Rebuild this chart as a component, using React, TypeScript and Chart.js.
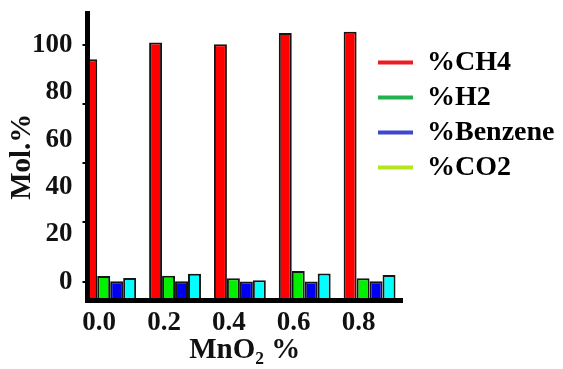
import { useEffect, useRef } from "react";
import { Chart, registerables } from "chart.js";

Chart.register(...registerables);

// MnO2 loading (%) for each group of bars
const mno2Loadings = [0, 0.2, 0.4, 0.6, 0.8];
const xTickLabels = ["0.0", "0.2", "0.4", "0.6", "0.8"];

// Gas composition, mol.%
const ch4Values = [94, 101, 100.3, 105, 105.6];
const h2Values = [2.4, 2.5, 1.4, 4.5, 1.4];
const benzeneValues = [0.1, 0.1, 0, 0, 0.1];
const co2Values = [1.5, 3.3, 0.6, 3.4, 2.8];

const seriesLabels = ["%CH4", "%H2", "%Benzene", "%CO2"];
const barColors = ["#ff0000", "#00f000", "#0000f0", "#00ffff"];
const legendColors = ["#ed1c24", "#22b14c", "#3f48cc", "#b5e61d"];

const yTickValues = [0, 20, 40, 60, 80, 100];
const yTickLabels = ["0", "20", "40", "60", "80", "100"];
const yMarkValues = [0, 25, 50, 75, 100];

const Y_MIN = -8;
const Y_MAX = 113.5;
const X_MIN = -0.07;
const X_MAX = 0.9;

const SERIF = "'Liberation Serif', 'Times New Roman', serif";
const INK = "#111";

// Pull the legend in over the right end of the plot, as in the figure layout
const legendPlacement = {
  id: "legendPlacement",
  afterLayout(chart: any) {
    const lg = chart.legend;
    if (!lg) return;
    lg.left = 363;
    lg.right = chart.width;
    lg.width = lg.right - lg.left;
    lg.top = 33.5;
  },
};

const noEdgePadding = (s: any) => {
  s.paddingTop = 0;
  s.paddingBottom = 0;
  s.paddingLeft = 0;
  s.paddingRight = 0;
};

export default function App() {
  const canvasRef = useRef<HTMLCanvasElement>(null);

  useEffect(() => {
    if (!canvasRef.current) return;
    const series = [ch4Values, h2Values, benzeneValues, co2Values];
    const chart = new Chart(canvasRef.current, {
      type: "bar",
      data: {
        datasets: series.map((vals, i) => ({
          label: seriesLabels[i],
          data: mno2Loadings.map((x, j) => ({ x, y: vals[j] })),
          backgroundColor: barColors[i],
          borderColor: "#151515",
          borderWidth: 2,
          base: Y_MIN,
          categoryPercentage: 0.8,
          barPercentage: 1.0,
          clip: 0,
          yAxisID: "y",
        })),
      },
      options: {
        responsive: false,
        animation: false,
        layout: { padding: { top: 5, left: 0, right: 0, bottom: 0 } },
        plugins: {
          tooltip: { enabled: false },
          legend: {
            position: "right",
            align: "start",
            maxWidth: 180,
            labels: {
              boxWidth: 35,
              boxHeight: 4,
              padding: 7,
              color: INK,
              font: { family: SERIF, size: 28, weight: "bold" },
              generateLabels: (c: any) =>
                c.data.datasets.map((ds: any, i: number) => ({
                  text: ds.label,
                  fillStyle: legendColors[i],
                  strokeStyle: legendColors[i],
                  lineWidth: 0,
                  hidden: false,
                  datasetIndex: i,
                })),
            },
          },
        },
        scales: {
          x: {
            type: "linear",
            min: X_MIN,
            max: X_MAX,
            offset: false,
            grid: { display: true, drawOnChartArea: false, drawTicks: false, offset: false, color: "#000", z: 1 },
            border: { display: true, width: 5, color: "#000", z: 1 },
            afterBuildTicks: (s: any) => {
              s.ticks = mno2Loadings.map((v) => ({ value: v }));
            },
            afterFit: (s: any) => {
              s.height = 87.5;
              noEdgePadding(s);
            },
            ticks: {
              color: INK,
              padding: 9,
              labelOffset: -11,
              maxRotation: 0,
              autoSkip: false,
              font: { family: SERIF, size: 27, weight: "bold", lineHeight: 1 },
              callback: (_v: any, i: number) => xTickLabels[i],
            },
            title: {
              display: true,
              text: "MnO₂ %",
              color: INK,
              font: { family: SERIF, size: 29, weight: "bold", lineHeight: 1 },
              padding: { top: 0, bottom: 23 },
            },
          },
          y: {
            type: "linear",
            position: "left",
            weight: 1,
            min: Y_MIN,
            max: Y_MAX,
            grid: { display: false, drawTicks: false },
            border: { display: false },
            afterBuildTicks: (s: any) => {
              s.ticks = yTickValues.map((v) => ({ value: v }));
            },
            afterFit: (s: any) => {
              s.width = 74.5;
              noEdgePadding(s);
            },
            ticks: {
              color: INK,
              padding: 10,
              font: { family: SERIF, size: 27, weight: "bold" },
              callback: (_v: any, i: number) => yTickLabels[i],
            },
            title: {
              display: true,
              text: "Mol.%",
              color: INK,
              font: { family: SERIF, size: 29, weight: "bold", lineHeight: 1 },
              padding: { top: 0, bottom: 0 },
            },
          },
          y2: {
            type: "linear",
            position: "left",
            weight: 0,
            min: Y_MIN,
            max: Y_MAX,
            grid: { display: true, drawOnChartArea: false, drawTicks: true, tickLength: 5, lineWidth: 2, color: "#000", z: 1 },
            border: { display: true, width: 5, color: "#000", z: 1 },
            afterBuildTicks: (s: any) => {
              s.ticks = yMarkValues.map((v) => ({ value: v }));
            },
            afterFit: (s: any) => {
              s.width = 5;
              noEdgePadding(s);
            },
            ticks: { display: false },
          },
        },
      },
      plugins: [legendPlacement],
    } as any);
    return () => chart.destroy();
  }, []);

  return (
    <div style={{ width: 555, height: 361, overflow: "hidden" }}>
      <canvas ref={canvasRef} width={574} height={380} style={{ display: "block" }} />
    </div>
  );
}
